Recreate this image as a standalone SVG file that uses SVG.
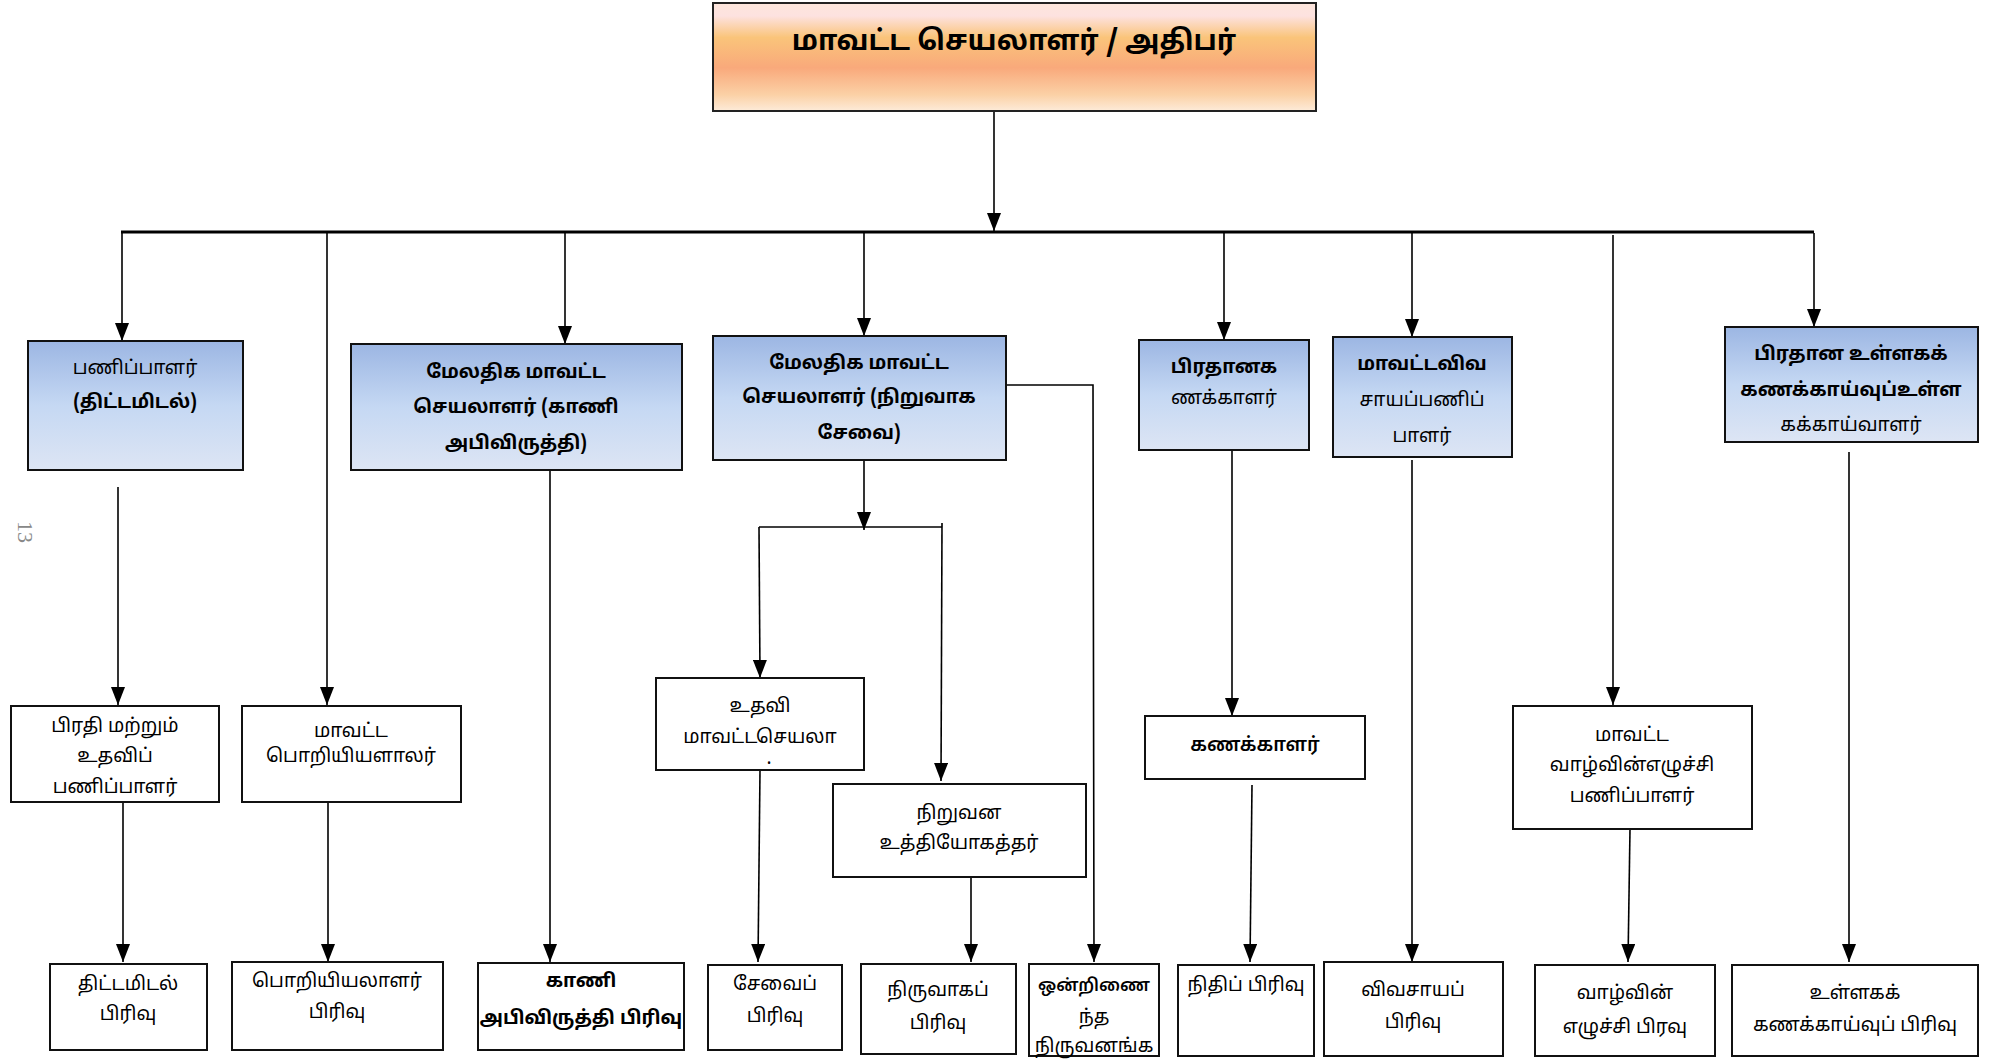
<svg xmlns="http://www.w3.org/2000/svg" width="2004" height="1059" viewBox="0 0 2004 1059">
<defs>
<linearGradient id="gTop" x1="0" y1="0" x2="0" y2="1">
<stop offset="0" stop-color="#fde6dc"/>
<stop offset="0.12" stop-color="#fde2e0"/>
<stop offset="0.32" stop-color="#fac47a"/>
<stop offset="0.6" stop-color="#f9a97b"/>
<stop offset="0.85" stop-color="#fbd1a6"/>
<stop offset="1" stop-color="#fdebd9"/>
</linearGradient>
<linearGradient id="gBlue" x1="0" y1="0" x2="0" y2="1">
<stop offset="0" stop-color="#9cb6e3"/>
<stop offset="0.5" stop-color="#c5d8f3"/>
<stop offset="1" stop-color="#dde5f4"/>
</linearGradient>
<marker id="arr" markerUnits="userSpaceOnUse" markerWidth="18" markerHeight="14" viewBox="0 0 18 14" refX="18" refY="7" orient="auto">
<path d="M0,0 L18,7 L0,14 Z" fill="#000"/>
</marker>
</defs>
<style>
.top{fill:url(#gTop);stroke:#222;stroke-width:2}
.l2{fill:url(#gBlue);stroke:#111;stroke-width:2}
.bx{fill:#fff;stroke:#111;stroke-width:2}
text{font-family:"Noto Sans Tamil","Latha","Noto Sans","Liberation Sans",sans-serif;fill:#000;text-anchor:middle}
.t1{font-size:28px;font-weight:bold}
.t2{font-size:19px;font-weight:bold}
.t3{font-size:19px}
.t3b{font-size:19px;font-weight:bold}
.c{fill:none;stroke:#000;stroke-width:1.6}
.ca{fill:none;stroke:#000;stroke-width:1.6;marker-end:url(#arr)}
</style>
<rect width="2004" height="1059" fill="#fff"/>
<text x="18" y="532" transform="rotate(90 18 532)" style="font-family:'Liberation Serif',serif;font-size:22px;fill:#888">13</text>

<g id="connectors">
<line class="ca" x1="994" y1="111" x2="994" y2="231"/>
<line x1="121" y1="232" x2="1814" y2="232" stroke="#000" stroke-width="3"/>
<line class="ca" x1="122" y1="233" x2="122" y2="341"/>
<line class="ca" x1="327" y1="233" x2="327" y2="705"/>
<line class="ca" x1="565" y1="233" x2="565" y2="344"/>
<line class="ca" x1="864" y1="233" x2="864" y2="336"/>
<line class="ca" x1="1224" y1="233" x2="1224" y2="340"/>
<line class="ca" x1="1412" y1="233" x2="1412" y2="337"/>
<line class="ca" x1="1613" y1="235" x2="1613" y2="705"/>
<line class="ca" x1="1814" y1="233" x2="1814" y2="327"/>

<line class="ca" x1="118" y1="487" x2="118" y2="705"/>
<line class="ca" x1="550" y1="470" x2="550" y2="962"/>
<line class="ca" x1="864" y1="460" x2="864" y2="530"/>
<line class="c" x1="759" y1="527" x2="942" y2="527"/>
<line class="ca" x1="759" y1="527" x2="760" y2="678"/>
<line class="ca" x1="942" y1="523" x2="941" y2="781"/>
<polyline class="ca" points="1006,385 1093,385 1094,962"/>
<line class="ca" x1="1232" y1="450" x2="1232" y2="716"/>
<line class="ca" x1="1412" y1="460" x2="1412" y2="962"/>
<line class="ca" x1="1849" y1="452" x2="1849" y2="962"/>

<line class="ca" x1="123" y1="803" x2="123" y2="962"/>
<line class="ca" x1="328" y1="803" x2="328" y2="962"/>
<line class="ca" x1="760" y1="770" x2="758" y2="962"/>
<line class="ca" x1="971" y1="877" x2="971" y2="962"/>
<line class="ca" x1="1252" y1="785" x2="1250" y2="962"/>
<line class="ca" x1="1630" y1="829" x2="1628" y2="962"/>
</g>

<g id="n-top">
<rect class="top" x="713" y="3" width="603" height="108"/>
<text class="t1" x="1014" y="50">மாவட்ட செயலாளர் / அதிபர்</text>
</g>

<g id="n-planning-director">
<rect class="l2" x="28" y="341" width="215" height="129"/>
<text class="t3" x="135" y="374">பணிப்பாளர்</text>
<text class="t2" x="135" y="408">(திட்டமிடல்)</text>
</g>
<g id="n-add-land">
<rect class="l2" x="351" y="344" width="331" height="126"/>
<text class="t2" x="516" y="378">மேலதிக மாவட்ட</text>
<text class="t2" x="516" y="413">செயலாளர் (காணி</text>
<text class="t2" x="516" y="449">அபிவிருத்தி)</text>
</g>
<g id="n-add-admin">
<rect class="l2" x="713" y="336" width="293" height="124"/>
<text class="t2" x="859" y="369">மேலதிக மாவட்ட</text>
<text class="t2" x="859" y="403">செயலாளர் (நிறுவாக</text>
<text class="t2" x="859" y="439">சேவை)</text>
</g>
<g id="n-chief-acct">
<rect class="l2" x="1139" y="340" width="170" height="110"/>
<text class="t2" x="1224" y="373">பிரதானக</text>
<text class="t3" x="1224" y="404">ணக்காளர்</text>
</g>
<g id="n-agri-director">
<rect class="l2" x="1333" y="337" width="179" height="120"/>
<text class="t2" x="1422" y="370">மாவட்டவிவ</text>
<text class="t3" x="1422" y="406">சாயப்பணிப்</text>
<text class="t3" x="1422" y="442">பாளர்</text>
</g>
<g id="n-chief-audit">
<rect class="l2" x="1725" y="327" width="253" height="115"/>
<text class="t2" x="1851" y="360">பிரதான உள்ளகக்</text>
<text class="t3b" x="1851" y="396">கணக்காய்வுப்உள்ள</text>
<text class="t3" x="1851" y="431">கக்காய்வாளர்</text>
</g>

<g id="n-deputy">
<rect class="bx" x="11" y="706" width="208" height="96"/>
<text class="t3" x="115" y="732">பிரதி மற்றும்</text>
<text class="t3" x="115" y="762">உதவிப்</text>
<text class="t3" x="115" y="793">பணிப்பாளர்</text>
</g>
<g id="n-engineer">
<rect class="bx" x="242" y="706" width="219" height="96"/>
<text class="t3" x="351" y="737">மாவட்ட</text>
<text class="t3" x="351" y="762">பொறியியளாலர்</text>
</g>
<g id="n-asst-ds">
<rect class="bx" x="656" y="678" width="208" height="92"/>
<text class="t3" x="760" y="712">உதவி</text>
<text class="t3" x="760" y="743">மாவட்டசெயலா</text>
<text class="t3" x="769" y="764">.</text>
</g>
<g id="n-officer">
<rect class="bx" x="833" y="784" width="253" height="93"/>
<text class="t3" x="959" y="819">நிறுவன</text>
<text class="t3" x="959" y="849">உத்தியோகத்தர்</text>
</g>
<g id="n-accountant">
<rect class="bx" x="1145" y="716" width="220" height="63"/>
<text class="t3" x="1255" y="751" style="font-weight:600">கணக்காளர்</text>
</g>
<g id="n-dev-director">
<rect class="bx" x="1513" y="706" width="239" height="123"/>
<text class="t3" x="1632" y="741">மாவட்ட</text>
<text class="t3" x="1632" y="771">வாழ்வின்எழுச்சி</text>
<text class="t3" x="1632" y="802">பணிப்பாளர்</text>
</g>

<g id="n-planning-div">
<rect class="bx" x="50" y="964" width="157" height="86"/>
<text class="t3" x="128" y="990">திட்டமிடல்</text>
<text class="t3" x="128" y="1020">பிரிவு</text>
</g>
<g id="n-eng-div">
<rect class="bx" x="232" y="962" width="211" height="88"/>
<text class="t3" x="337" y="987">பொறியியலாளர்</text>
<text class="t3" x="337" y="1018">பிரிவு</text>
</g>
<g id="n-land-div">
<rect class="bx" x="478" y="963" width="206" height="87"/>
<text class="t3b" x="581" y="987">காணி</text>
<text class="t3b" x="581" y="1024">அபிவிருத்தி பிரிவு</text>
</g>
<g id="n-service-div">
<rect class="bx" x="708" y="965" width="134" height="85"/>
<text class="t3" x="775" y="990">சேவைப்</text>
<text class="t3" x="775" y="1022">பிரிவு</text>
</g>
<g id="n-admin-div">
<rect class="bx" x="861" y="964" width="155" height="90"/>
<text class="t3" x="938" y="996">நிருவாகப்</text>
<text class="t3" x="938" y="1029">பிரிவு</text>
</g>
<g id="n-combined-div">
<rect class="bx" x="1029" y="964" width="130" height="92"/>
<text class="t3" x="1094" y="991" style="font-size:17px;font-weight:600">ஒன்றிணை</text>
<text class="t3" x="1094" y="1023">ந்த</text>
<text class="t3" x="1094" y="1052">நிருவனங்க</text>
</g>
<g id="n-finance-div">
<rect class="bx" x="1178" y="965" width="136" height="91"/>
<text class="t3" x="1246" y="991">நிதிப் பிரிவு</text>
</g>
<g id="n-agri-div">
<rect class="bx" x="1324" y="962" width="179" height="94"/>
<text class="t3" x="1413" y="996">விவசாயப்</text>
<text class="t3" x="1413" y="1028">பிரிவு</text>
</g>
<g id="n-dev-div">
<rect class="bx" x="1535" y="965" width="180" height="91"/>
<text class="t3" x="1625" y="999">வாழ்வின்</text>
<text class="t3" x="1625" y="1033">எழுச்சி பிரவு</text>
</g>
<g id="n-audit-div">
<rect class="bx" x="1732" y="965" width="246" height="91"/>
<text class="t3" x="1855" y="999">உள்ளகக்</text>
<text class="t3" x="1855" y="1031">கணக்காய்வுப் பிரிவு</text>
</g>
</svg>
